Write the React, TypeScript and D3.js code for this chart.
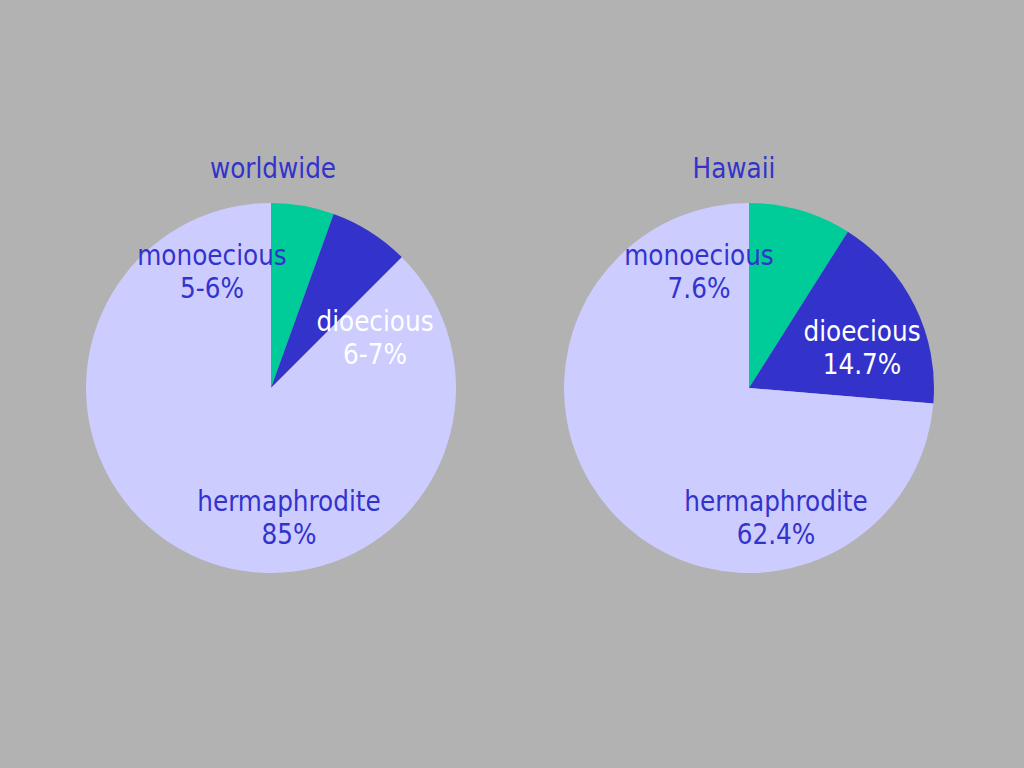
import React from "react";
import * as d3 from "d3";

const categories = ["monoecious", "dioecious", "hermaphrodite"];
const worldwideValues = [5.5, 7, 87.5];
const worldwideLabels = ["5-6%", "6-7%", "85%"];
const hawaiiValues = [7.6, 14.7, 62.4];
const hawaiiLabels = ["7.6%", "14.7%", "62.4%"];
const titles = ["worldwide", "Hawaii"];

const colors = ["#00cc99", "#3333cc", "#ccccff"];
const labelColors = ["#3333cc", "#ffffff", "#3333cc"];

// label layout (baseline offsets from pie center) per chart
const labelPos = [
  [
    [-59, -123],
    [104, -57],
    [18, 123],
  ],
  [
    [-50, -123],
    [113, -47],
    [27, 123],
  ],
];
const titlePos = [
  [2, -210],
  [-15, -210],
];

export default function App() {
  const W = 1024;
  const H = 768;
  const r = 185;
  const centers = [
    [271, 388],
    [749, 388],
  ];
  const pie = d3
    .pie<number>()
    .sort(null)
    .value((d) => d);
  const arc = d3.arc<d3.PieArcDatum<number>>().innerRadius(0).outerRadius(r);
  const datasets = [
    { values: worldwideValues, labels: worldwideLabels },
    { values: hawaiiValues, labels: hawaiiLabels },
  ];
  const font = "'DejaVu Sans Condensed', 'DejaVu Sans', Verdana, sans-serif";
  const fs = 27.5;
  return (
    <svg
      width={W}
      height={H}
      style={{ position: "absolute", left: 0, top: 0 }}
      fontFamily={font}
      fontStretch="condensed"
    >
      <rect width={W} height={H} fill="#b2b2b2" />
      {datasets.map((ds, ci) => {
        const [cx, cy] = centers[ci];
        const arcs = pie(ds.values);
        return (
          <g key={ci} transform={`translate(${cx},${cy})`}>
            {arcs.map((a, i) => (
              <path key={i} d={arc(a) || ""} fill={colors[i]} />
            ))}
            <text
              x={titlePos[ci][0]}
              y={titlePos[ci][1]}
              textAnchor="middle"
              fontSize={fs}
              fill="#3333cc"
            >
              {titles[ci]}
            </text>
            {categories.map((c, i) => {
              const [lx, ly] = labelPos[ci][i];
              return (
                <text
                  key={c}
                  x={lx}
                  y={ly}
                  textAnchor="middle"
                  fontSize={fs}
                  fill={labelColors[i]}
                >
                  <tspan x={lx}>{c}</tspan>
                  <tspan x={lx} dy={33}>
                    {ds.labels[i]}
                  </tspan>
                </text>
              );
            })}
          </g>
        );
      })}
    </svg>
  );
}
